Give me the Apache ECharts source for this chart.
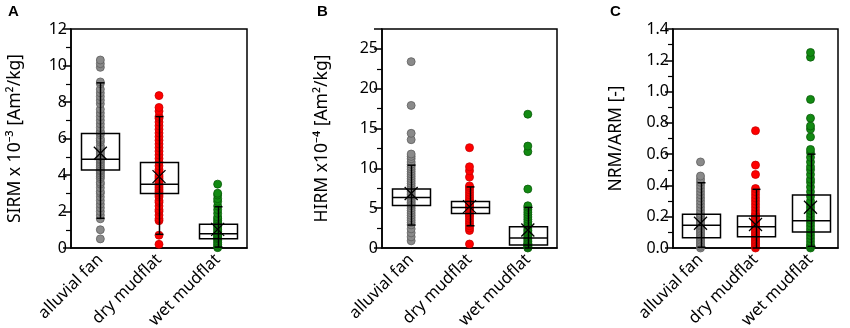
<!DOCTYPE html>
<html>
<head>
<meta charset="utf-8">
<script src="https://cdn.jsdelivr.net/npm/echarts@6/dist/echarts.min.js"></script>
<style>
  html, body { margin: 0; padding: 0; background: #fff; }
  #chart { width: 850px; height: 328px; }
</style>
</head>
<body>
<div id="chart"></div>
<script>
// categories
var groups = ['alluvial fan', 'dry mudflat', 'wet mudflat']

// panel A - SIRM x 10^-3 [Am2/kg]
var sirmAlluvial = [0.5, 1.0, 1.6, 1.8, 2.0, 2.2, 2.4, 2.6, 2.8, 3.0, 3.1, 3.3, 3.5, 3.6, 3.8, 3.9, 4.0, 4.1, 4.2, 4.25, 4.3, 4.4, 4.5, 4.6, 4.7, 4.8, 4.85, 4.9, 5.0, 5.1, 5.2, 5.3, 5.4, 5.5, 5.6, 5.8, 5.9, 6.0, 6.2, 6.3, 6.4, 6.6, 6.8, 7.0, 7.2, 7.4, 7.6, 7.9, 8.1, 8.3, 8.5, 8.7, 9.0, 9.1, 9.9, 10.1, 10.3]
var sirmDry = [0.2, 0.7, 1.5, 1.6, 1.8, 2.0, 2.1, 2.3, 2.5, 2.6, 2.8, 2.9, 3.0, 3.1, 3.2, 3.3, 3.4, 3.5, 3.6, 3.7, 3.8, 3.9, 4.0, 4.2, 4.3, 4.5, 4.7, 4.9, 5.1, 5.3, 5.5, 5.7, 5.9, 6.1, 6.3, 6.5, 6.7, 6.9, 7.1, 7.2, 7.5, 7.7, 8.35]
var sirmWet = [0.02, 0.1, 0.2, 0.3, 0.4, 0.5, 0.55, 0.6, 0.7, 0.75, 0.8, 0.9, 1.0, 1.1, 1.2, 1.3, 1.4, 1.5, 1.6, 1.7, 1.9, 2.1, 2.3, 2.55, 2.7, 2.9, 3.0, 3.5]
// [whisker low, Q1, median, Q3, whisker high]
var sirmBoxes = [[1.63, 4.27, 4.86, 6.28, 9.05], [0.75, 2.98, 3.49, 4.69, 7.2], [0.05, 0.51, 0.78, 1.3, 2.26]]
var sirmMeans = [5.19, 3.91, 1.02]

// panel B - HIRM x 10^-4 [Am2/kg]
var hirmAlluvial = [0.9, 1.4, 1.9, 2.4, 2.9, 3.2, 3.5, 3.8, 4.1, 4.4, 4.7, 5.0, 5.3, 5.5, 5.7, 5.9, 6.1, 6.3, 6.5, 6.7, 6.9, 7.1, 7.3, 7.5, 7.8, 8.1, 8.4, 8.7, 9.0, 9.3, 9.6, 9.9, 10.2, 10.5, 10.8, 11.2, 11.5, 11.8, 13.6, 14.4, 17.9, 23.4]
var hirmDry = [0.5, 2.2, 2.5, 2.8, 3.1, 3.4, 3.7, 4.0, 4.2, 4.4, 4.6, 4.8, 5.0, 5.1, 5.3, 5.5, 5.7, 5.9, 6.1, 6.4, 6.7, 7.0, 7.3, 7.6, 7.8, 8.9, 9.7, 10.2, 12.6]
var hirmWet = [0.0, 0.1, 0.2, 0.3, 0.4, 0.5, 0.6, 0.8, 1.0, 1.2, 1.4, 1.6, 1.8, 2.0, 2.2, 2.4, 2.7, 3.0, 3.3, 3.6, 3.9, 4.2, 4.5, 4.8, 5.1, 5.3, 7.4, 12.1, 12.8, 16.8]
var hirmBoxes = [[2.88, 5.34, 6.34, 7.42, 10.4], [2.79, 4.34, 5.09, 5.84, 7.67], [0.0, 0.38, 1.25, 2.67, 5.1]]
var hirmMeans = [6.84, 5.2, 2.25]

// panel C - NRM/ARM [-]
var nrmAlluvial = [0.0, 0.01, 0.02, 0.03, 0.04, 0.05, 0.06, 0.07, 0.08, 0.09, 0.1, 0.11, 0.12, 0.13, 0.14, 0.145, 0.15, 0.16, 0.17, 0.18, 0.19, 0.2, 0.21, 0.22, 0.24, 0.26, 0.28, 0.3, 0.32, 0.34, 0.36, 0.38, 0.4, 0.42, 0.44, 0.46, 0.55]
var nrmDry = [0.0, 0.01, 0.02, 0.03, 0.04, 0.05, 0.06, 0.07, 0.08, 0.09, 0.1, 0.11, 0.12, 0.13, 0.14, 0.15, 0.16, 0.17, 0.18, 0.19, 0.2, 0.21, 0.22, 0.24, 0.26, 0.28, 0.3, 0.32, 0.34, 0.36, 0.38, 0.47, 0.53, 0.75]
var nrmWet = [0.0, 0.01, 0.02, 0.04, 0.06, 0.08, 0.1, 0.12, 0.14, 0.16, 0.18, 0.2, 0.22, 0.24, 0.26, 0.28, 0.3, 0.33, 0.36, 0.39, 0.42, 0.44, 0.47, 0.5, 0.52, 0.55, 0.58, 0.61, 0.63, 0.71, 0.76, 0.78, 0.83, 0.95, 1.22, 1.25]
var nrmBoxes = [[0.005, 0.066, 0.145, 0.215, 0.417], [0.0, 0.072, 0.136, 0.205, 0.375], [0.01, 0.102, 0.175, 0.339, 0.6]]
var nrmMeans = [0.158, 0.15, 0.26]

var FONT = 'Noto Sans'
var pointColors = [
  { color: '#8a8a8a', borderColor: '#5e5e5e' },
  { color: '#ff0000', borderColor: '#c80000' },
  { color: '#128a12', borderColor: '#0a5a0a' }
]

var panels = [
  { letter: 'A', left: 71, width: 176, name: 'SIRM x 10⁻³ [Am²/kg]', max: 12, interval: 2, gap: 47, showMax: true,
    fmt: function (v) { return v }, points: [sirmAlluvial, sirmDry, sirmWet], boxes: sirmBoxes, means: sirmMeans, letterX: 8 },
  { letter: 'B', left: 382, width: 175, name: 'HIRM x10⁻⁴ [Am²/kg]', max: 27.5, interval: 5, gap: 51, showMax: false,
    fmt: function (v) { return v % 5 === 0 ? v : '' }, points: [hirmAlluvial, hirmDry, hirmWet], boxes: hirmBoxes, means: hirmMeans, letterX: 317 },
  { letter: 'C', left: 673, width: 165, name: 'NRM/ARM [-]', max: 1.4, interval: 0.2, gap: 48, showMax: true,
    fmt: function (v) { return v.toFixed(1) }, points: [nrmAlluvial, nrmDry, nrmWet], boxes: nrmBoxes, means: nrmMeans, letterX: 610 }
]

function renderBox(params, api) {
  var x = api.value(0)
  var low = api.coord([x, api.value(1)])
  var q1 = api.coord([x, api.value(2)])
  var med = api.coord([x, api.value(3)])
  var q3 = api.coord([x, api.value(4)])
  var high = api.coord([x, api.value(5)])
  var cx = Math.round(med[0]) + 0.5
  var half = 19
  var cap = 4
  var st = { stroke: '#000', lineWidth: 1.5, fill: null }
  return {
    type: 'group',
    children: [
      { type: 'line', shape: { x1: cx, y1: high[1], x2: cx, y2: low[1] }, style: st },
      { type: 'line', shape: { x1: cx - cap, y1: high[1], x2: cx + cap, y2: high[1] }, style: st },
      { type: 'line', shape: { x1: cx - cap, y1: low[1], x2: cx + cap, y2: low[1] }, style: st },
      { type: 'rect', shape: { x: cx - half, y: q3[1], width: half * 2, height: q1[1] - q3[1] }, style: st },
      { type: 'line', shape: { x1: cx - half, y1: med[1], x2: cx + half, y2: med[1] }, style: st }
    ]
  }
}

var grid = []
var xAxis = []
var yAxis = []
var series = []
var title = []

panels.forEach(function (p, i) {
  grid.push({
    left: p.left, top: 29, width: p.width, height: 219,
    show: true, borderColor: '#000', borderWidth: 1.5, backgroundColor: '#fff',
    containLabel: false, outerBoundsMode: 'none'
  })
  xAxis.push({
    type: 'category', gridIndex: i, data: groups, boundaryGap: true,
    axisLine: { lineStyle: { color: '#000', width: 1.5 } },
    axisTick: { alignWithLabel: true, length: 8, lineStyle: { color: '#000', width: 1.5 } },
    axisLabel: { rotate: 45, interval: 0, margin: 9, color: '#000', fontSize: 16.5, fontFamily: FONT },
    splitLine: { show: false }
  })
  yAxis.push({
    type: 'value', gridIndex: i, min: 0, max: p.max, interval: p.interval,
    name: p.name, nameLocation: 'middle', nameGap: p.gap,
    nameTextStyle: { color: '#000', fontSize: 17.5, fontFamily: FONT },
    axisLine: { show: true, lineStyle: { color: '#000', width: 1.5 } },
    axisTick: { show: true, length: 8, lineStyle: { color: '#000', width: 1.5 } },
    minorTick: { show: true, splitNumber: 2, length: 5, lineStyle: { color: '#000', width: 1.2 } },
    axisLabel: { color: '#000', fontSize: 16, fontFamily: FONT, margin: 4, formatter: p.fmt, showMaxLabel: p.showMax },
    splitLine: { show: false }
  })
  title.push({
    text: p.letter, left: p.letterX, top: 4, padding: 0,
    textStyle: { fontSize: 15, fontWeight: 'bold', color: '#000', fontFamily: 'Liberation Sans' }
  })
  p.points.forEach(function (vals, g) {
    series.push({
      type: 'scatter', xAxisIndex: i, yAxisIndex: i, z: 2,
      symbolSize: 8,
      itemStyle: { color: pointColors[g].color, borderColor: pointColors[g].borderColor, borderWidth: 0.8, opacity: 1 },
      data: vals.map(function (v) { return [g, v] }),
      silent: true, animation: false
    })
  })
  series.push({
    type: 'custom', xAxisIndex: i, yAxisIndex: i, z: 3,
    renderItem: renderBox,
    encode: { x: 0, y: [1, 2, 3, 4, 5] },
    data: p.boxes.map(function (b, g) { return [g].concat(b) }),
    silent: true, animation: false
  })
  series.push({
    type: 'scatter', xAxisIndex: i, yAxisIndex: i, z: 4,
    symbol: 'path://M0,0L10,10M10,0L0,10', symbolSize: 13,
    itemStyle: { color: 'none', borderColor: '#000', borderWidth: 1.3, opacity: 1 },
    data: p.means.map(function (m, g) { return [g, m] }),
    silent: true, animation: false
  })
})

var chart = echarts.init(document.getElementById('chart'))
chart.setOption({
  animation: false,
  backgroundColor: '#fff',
  title: title,
  grid: grid,
  xAxis: xAxis,
  yAxis: yAxis,
  series: series
})
</script>
</body>
</html>
